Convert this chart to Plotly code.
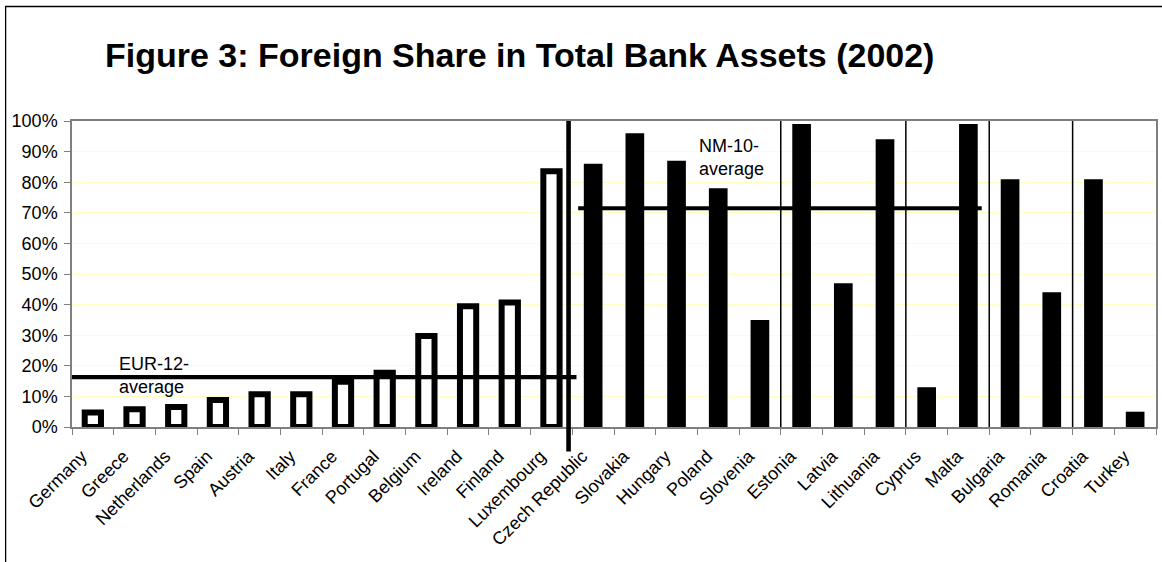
import plotly.graph_objects as go

# Foreign share in total bank assets, 2002
eur_countries = ["Germany", "Greece", "Netherlands", "Spain", "Austria", "Italy",
                 "France", "Portugal", "Belgium", "Ireland", "Finland", "Luxembourg"]
eur_share = [0.047, 0.058, 0.065, 0.088, 0.107, 0.107, 0.148, 0.177, 0.297, 0.395, 0.407, 0.836]

other_countries = ["Czech Republic", "Slovakia", "Hungary", "Poland", "Slovenia", "Estonia",
                   "Latvia", "Lithuania", "Cyprus", "Malta", "Bulgaria", "Romania",
                   "Croatia", "Turkey"]
other_share = [0.86, 0.96, 0.87, 0.78, 0.35, 0.99, 0.47, 0.94, 0.13, 0.99, 0.81, 0.44, 0.81, 0.05]

all_countries = eur_countries + other_countries

# group averages and the category span each reference line covers
eur_avg = 0.163
eur_avg_span = [-0.5, 11.6]
nm_avg = 0.715
nm_avg_span = [11.64, 21.32]

# group separators (category-index positions)
main_separator = 11.41
group_separators = [16.5, 19.5, 21.5, 23.5]

FONT = "Arial, Liberation Sans, sans-serif"

fig = go.Figure()

fig.add_trace(go.Bar(
    x=eur_countries, y=eur_share, width=0.39,
    marker=dict(color="white", line=dict(color="black", width=6)),
    showlegend=False, hoverinfo="x+y",
))
fig.add_trace(go.Bar(
    x=other_countries, y=other_share, width=0.448,
    marker=dict(color="black", line=dict(color="black", width=0)),
    showlegend=False, hoverinfo="x+y",
))

fig.add_trace(go.Scatter(
    x=eur_avg_span, y=[eur_avg, eur_avg], xaxis="x2", mode="lines",
    line=dict(color="black", width=4.3), showlegend=False, hoverinfo="skip",
))
fig.add_trace(go.Scatter(
    x=nm_avg_span, y=[nm_avg, nm_avg], xaxis="x2", mode="lines",
    line=dict(color="black", width=4), showlegend=False, hoverinfo="skip",
))

shapes = [dict(type="line", xref="x2", yref="paper", x0=main_separator, x1=main_separator,
               y0=-0.08, y1=1, line=dict(color="black", width=4.6), layer="above")]
for s in group_separators:
    shapes.append(dict(type="line", xref="x2", yref="paper", x0=s, x1=s, y0=0, y1=1,
                       line=dict(color="black", width=1.5), layer="above"))

# outer chart frame
shapes.append(dict(type="rect", xref="paper", yref="paper",
                   x0=(5.5 - 72) / 1086, x1=1.2, y0=-1.0, y1=1 + (121 - 6.5) / 306,
                   line=dict(color="black", width=1.3), fillcolor="rgba(0,0,0,0)", layer="below"))

annotations = [
    dict(x=0.57, y=eur_avg + 0.005, xref="x2", yref="y", text="EUR-12-<br>average",
         showarrow=False, xanchor="left", yanchor="middle", align="left",
         font=dict(family=FONT, size=18, color="black")),
    dict(x=14.48, y=0.88, xref="x2", yref="y", text="NM-10-<br>average",
         showarrow=False, xanchor="left", yanchor="middle", align="left",
         font=dict(family=FONT, size=18, color="black")),
]

fig.update_layout(
    width=1162, height=562,
    margin=dict(l=72, r=4, t=121, b=135),
    paper_bgcolor="white", plot_bgcolor="white",
    barmode="overlay",
    title=dict(text="<b>Figure 3: Foreign Share in Total Bank Assets (2002)</b>",
               x=105 / 1162, xanchor="left", y=1 - 55 / 562, yanchor="middle",
               font=dict(family=FONT, size=34, color="black")),
    font=dict(family=FONT, size=18, color="black"),
    xaxis=dict(type="category", categoryorder="array", categoryarray=all_countries,
               tickson="boundaries", ticks="outside", ticklen=6, tickwidth=1.3,
               tickcolor="#7f7f7f", tickangle=-45, showline=True, linecolor="#7f7f7f",
               linewidth=1.5, mirror=True, showgrid=False,
               ticklabelstandoff=10, ticklabelshift=-11,
               tickfont=dict(family=FONT, size=18, color="black"),
               range=[-0.5, len(all_countries) - 0.5]),
    xaxis2=dict(overlaying="x", range=[-0.5, len(all_countries) - 0.5], visible=False),
    yaxis=dict(range=[0, 1], dtick=0.1, tickformat=".0%", ticks="outside", ticklen=6,
               tickwidth=1.3, tickcolor="#7f7f7f", showline=True, linecolor="#7f7f7f",
               linewidth=1.5, mirror=True, showgrid=True, gridcolor="#FFFFC2",
               gridwidth=1, zeroline=False, ticklabelstandoff=3,
               tickfont=dict(family=FONT, size=18, color="black")),
    shapes=shapes,
    annotations=annotations,
)

fig.write_html("out.html")
